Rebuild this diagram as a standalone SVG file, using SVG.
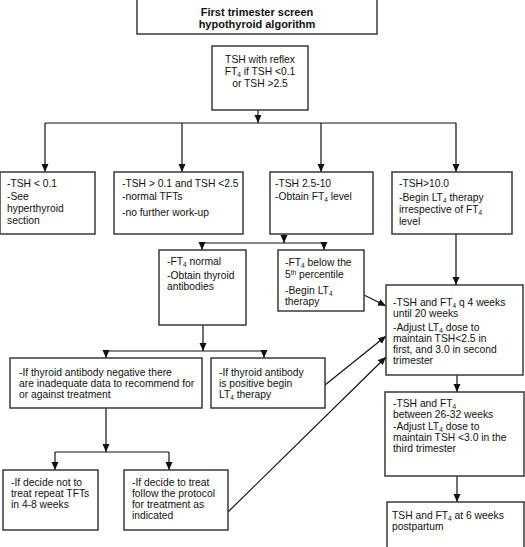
<svg xmlns="http://www.w3.org/2000/svg" width="525" height="547" viewBox="0 0 525 547">
<defs>
<marker id="ah" markerUnits="userSpaceOnUse" markerWidth="8" markerHeight="8" viewBox="0 0 8 8" refX="8" refY="4" orient="auto">
<path d="M0,0.5 L8,4 L0,7.5 Z" fill="#111"/>
</marker>
<style>
rect{fill:#fff;stroke:#3a3a3a;stroke-width:1.5}
text{font-family:"Liberation Sans",Arial,sans-serif;font-size:10.3px;fill:#111}
.t{font-weight:bold;font-size:11px;text-anchor:middle}
.c{text-anchor:middle}
.s{font-size:6.5px}
#connectors line{stroke:#111;stroke-width:1.2;fill:none}
.a{marker-end:url(#ah)}
</style>
</defs>
<rect x="0" y="0" width="525" height="547" style="fill:#fff;stroke:none"/>

<g id="connectors">
<line class="a" x1="258" y1="110" x2="258" y2="123"/>
<line x1="45" y1="123" x2="456" y2="123"/>
<line class="a" x1="45" y1="123" x2="45" y2="172"/>
<line class="a" x1="182" y1="123" x2="182" y2="172"/>
<line class="a" x1="321" y1="123" x2="321" y2="172"/>
<line class="a" x1="456" y1="123" x2="456" y2="172"/>
<line class="a" x1="284" y1="234" x2="284" y2="243"/>
<line x1="202" y1="243" x2="324" y2="243"/>
<line class="a" x1="202" y1="243" x2="202" y2="250"/>
<line class="a" x1="324" y1="243" x2="324" y2="250"/>
<line class="a" x1="456" y1="234" x2="456" y2="285"/>
<line class="a" x1="203" y1="325" x2="203" y2="351"/>
<line x1="106" y1="351" x2="264" y2="351"/>
<line class="a" x1="106" y1="351" x2="106" y2="358"/>
<line class="a" x1="264" y1="351" x2="264" y2="358"/>
<line class="a" x1="106" y1="408" x2="106" y2="452"/>
<line x1="55" y1="452" x2="169" y2="452"/>
<line class="a" x1="55" y1="452" x2="55" y2="470"/>
<line class="a" x1="169" y1="452" x2="169" y2="470"/>
<line class="a" x1="364" y1="295" x2="386" y2="306"/>
<line class="a" x1="325" y1="385" x2="386" y2="336"/>
<line class="a" x1="228" y1="512" x2="386" y2="357"/>
<line class="a" x1="457" y1="375" x2="457" y2="392"/>
<line class="a" x1="457" y1="476" x2="457" y2="502"/>
</g>

<g id="title">
<rect x="137" y="-1" width="240" height="35"/>
<text class="t" x="257" y="16">First trimester screen</text>
<text class="t" x="257" y="28">hypothyroid algorithm</text>
</g>

<g id="tsh">
<rect x="212" y="46" width="96" height="64"/>
<text class="c" x="260" y="63">TSH with reflex</text>
<text class="c" x="260" y="75">FT<tspan class="s" dy="2">4</tspan><tspan dy="-2"> if TSH &lt;0.1</tspan></text>
<text class="c" x="260" y="87">or TSH &gt;2.5</text>
</g>

<g id="low">
<rect x="0" y="172" width="95" height="62"/>
<text x="7" y="187">-TSH &lt; 0.1</text>
<text x="7" y="200">-See</text>
<text x="7" y="212">hyperthyroid</text>
<text x="7" y="224">section</text>
</g>

<g id="normal">
<rect x="114" y="172" width="129" height="62"/>
<text x="122" y="187">-TSH &gt; 0.1 and TSH &lt;2.5</text>
<text x="122" y="200">-normal TFTs</text>
<text x="122" y="216">-no further work-up</text>
</g>

<g id="mid">
<rect x="270" y="172" width="103" height="62"/>
<text x="275" y="187">-TSH 2.5-10</text>
<text x="275" y="200">-Obtain FT<tspan class="s" dy="2">4</tspan><tspan dy="-2"> level</tspan></text>
</g>

<g id="high">
<rect x="392" y="172" width="120" height="62"/>
<text x="399" y="187">-TSH&gt;10.0</text>
<text x="399" y="201">-Begin LT<tspan class="s" dy="2">4</tspan><tspan dy="-2"> therapy</tspan></text>
<text x="399" y="213">irrespective of FT<tspan class="s" dy="2">4</tspan></text>
<text x="399" y="225">level</text>
</g>

<g id="ft4normal">
<rect x="159" y="250" width="87" height="75"/>
<text x="167" y="265">-FT<tspan class="s" dy="2">4</tspan><tspan dy="-2"> normal</tspan></text>
<text x="167" y="279">-Obtain thyroid</text>
<text x="167" y="290">antibodies</text>
</g>

<g id="ft4low">
<rect x="278" y="250" width="86" height="61"/>
<text x="285" y="266">-FT<tspan class="s" dy="2">4</tspan><tspan dy="-2"> below the</tspan></text>
<text x="285" y="278">5<tspan class="s" dy="-3">th</tspan><tspan dy="3"> percentile</tspan></text>
<text x="285" y="294">-Begin LT<tspan class="s" dy="2">4</tspan></text>
<text x="285" y="305">therapy</text>
</g>

<g id="monitor1">
<rect x="386" y="285" width="137" height="90"/>
<text x="393" y="306">-TSH and FT<tspan class="s" dy="2">4</tspan><tspan dy="-2"> q 4 weeks</tspan></text>
<text x="393" y="317">until 20 weeks</text>
<text x="393" y="331">-Adjust LT<tspan class="s" dy="2">4</tspan><tspan dy="-2"> dose to</tspan></text>
<text x="393" y="342">maintain TSH&lt;2.5 in</text>
<text x="393" y="353">first, and 3.0 in second</text>
<text x="393" y="364">trimester</text>
</g>

<g id="abneg">
<rect x="10" y="358" width="192" height="50"/>
<text x="19" y="376">-If thyroid antibody negative there</text>
<text x="19" y="387">are inadequate data to recommend for</text>
<text x="19" y="398">or against treatment</text>
</g>

<g id="abpos">
<rect x="211" y="358" width="114" height="50"/>
<text x="219" y="376">-If thyroid antibody</text>
<text x="219" y="387">is positive begin</text>
<text x="219" y="398">LT<tspan class="s" dy="2">4</tspan><tspan dy="-2"> therapy</tspan></text>
</g>

<g id="monitor2">
<rect x="385" y="392" width="139" height="84"/>
<text x="393" y="407">-TSH and FT<tspan class="s" dy="2">4</tspan></text>
<text x="393" y="418">between 26-32 weeks</text>
<text x="393" y="430">-Adjust LT<tspan class="s" dy="2">4</tspan><tspan dy="-2"> dose to</tspan></text>
<text x="393" y="441">maintain TSH &lt;3.0 in the</text>
<text x="393" y="452">third trimester</text>
</g>

<g id="notreat">
<rect x="3" y="470" width="95" height="60"/>
<text x="11" y="486">-If decide not to</text>
<text x="11" y="497">treat repeat TFTs</text>
<text x="11" y="508">in 4-8 weeks</text>
</g>

<g id="treat">
<rect x="124" y="470" width="104" height="60"/>
<text x="132" y="486">-If decide to treat</text>
<text x="132" y="497">follow the protocol</text>
<text x="132" y="508">for treatment as</text>
<text x="132" y="519">indicated</text>
</g>

<g id="postpartum">
<rect x="387" y="502" width="137" height="50"/>
<text x="392" y="519">TSH and FT<tspan class="s" dy="2">4</tspan><tspan dy="-2"> at 6 weeks</tspan></text>
<text x="392" y="530">postpartum</text>
</g>
</svg>
